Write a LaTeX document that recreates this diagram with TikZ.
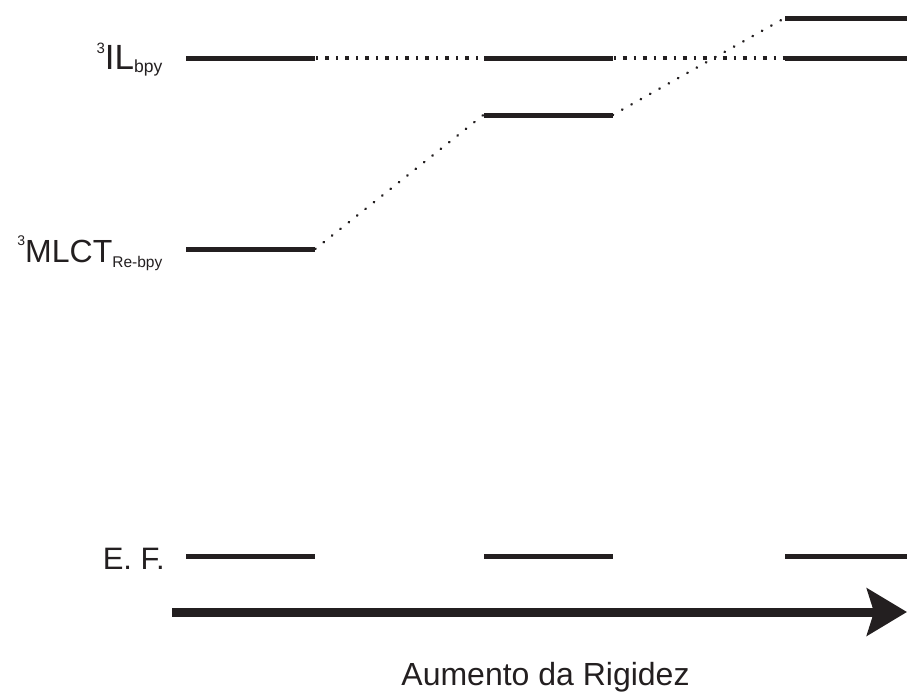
\documentclass[tikz,border=0pt]{standalone}
\usepackage{fontspec}
\setmainfont{Liberation Sans}
\usepackage{tikz}
\usetikzlibrary{arrows.meta, positioning}
\definecolor{levelInk}{RGB}{35, 31, 32}
\newcommand{\lvlidx}[3]{\raisebox{#2}{\fontsize{#1}{#1}\selectfont #3}}

\begin{document}
\begin{tikzpicture}[x=1pt, y=-1pt, color=levelInk,
    level/.style={rectangle, fill=levelInk, inner sep=0pt, minimum width=129pt, minimum height=5pt},
    stateconn/.style={line width=4.5pt, dash pattern=on 4pt off 7pt on 2pt off 7pt, dash phase=-10pt},
    shiftconn/.style={line width=2.5pt, line cap=round, dash pattern=on 0.5pt off 10.2pt},
    statelabel/.style={anchor=base east, inner sep=0pt}]
    \useasboundingbox (0,0) rectangle (907,691);
    % energy levels
    \foreach \name/\x/\y in {
        il1/250.5/58, mlct1/250.5/249, ef1/250.5/556,
        il2/548/58, mlct2/548/115, ef2/548/556} {
        \node[level] (\name) at (\x,\y) {};
    }
    \foreach \name/\y in {mlct3/18, il3/58, ef3/556} {
        \node[level, minimum width=122pt] (\name) at (846,\y) {};
    }
    \node[statelabel] (illabel) at (162.5,69) {\fontsize{35}{40}\selectfont\lvlidx{15}{16pt}{3}IL\lvlidx{17.5}{-3pt}{bpy}};
    \node[statelabel] (mlctlabel) at (162.5,262) {\fontsize{32}{36}\selectfont\lvlidx{14}{17pt}{3}MLCT\lvlidx{15.5}{-5pt}{Re-bpy}};
    \node[statelabel] (eflabel) at (165,569) {\fontsize{31}{36}\selectfont E. F.};
    % correlation lines
    \draw[stateconn] (il1.east) -- (il2.west);
    \draw[stateconn] (il2.east) -- (il3.west);
    \draw[shiftconn] (mlct1.east) -- (mlct2.west);
    \draw[shiftconn] (mlct2.east) -- (mlct3.west);
    % rigidity axis
    \coordinate (axstart) at (172,612);
    \coordinate (axend) at (907,612);
    \draw[line width=9pt, -{Stealth[length=40pt, width=47pt, inset=7pt]}] (axstart) -- (axend);
    \node[anchor=base, inner sep=0pt] (axlabel) at (545.5,685) {\fontsize{32}{36}\selectfont Aumento da Rigidez};
\end{tikzpicture}
\end{document}
